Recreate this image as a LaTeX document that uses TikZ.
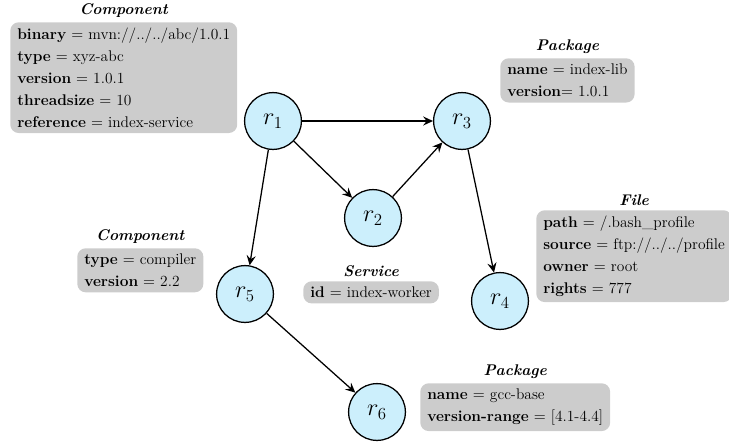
\documentclass[tikz,border=0pt]{standalone}
\usetikzlibrary{arrows.meta,positioning}

\tikzset{
    res/.style={circle, draw, line width=0.9pt, fill=cyan!20!white, minimum size=1.42cm, inner sep=0pt, font=\LARGE},
    attrs/.style={fill=gray!40, rounded corners=6pt, align=left, inner xsep=5pt, inner ysep=4pt, anchor=north west, font=\fontsize{11}{15.6}\selectfont},
    kind/.style={font=\fontsize{11}{13}\selectfont\bfseries\itshape, inner sep=1pt},
    link/.style={-{Stealth[length=7pt, width=6.5pt, inset=2.5pt]}, line width=0.9pt}
}

\begin{document}
\begin{tikzpicture}[x=0.025cm, y=-0.025cm]

        \useasboundingbox (0,0) rectangle (729,443);

        % Resources
        \node[res] (r1) at (273,121) {$r_1$};
        \node[res] (r2) at (373,218) {$r_2$};
        \node[res] (r3) at (462,121) {$r_3$};
        \node[res] (r4) at (500,301) {$r_4$};
        \node[res] (r5) at (245,294) {$r_5$};
        \node[res] (r6) at (377,412) {$r_6$};

        \foreach \a/\b in {r1/r3, r1/r2, r2/r3, r1/r5, r3/r4, r5/r6}
            \draw[link] (\a) -- (\b);

        % Attribute boxes
        \node[attrs] (comp1) at (10,22) {\textbf{binary} $=$ mvn://../../abc/1.0.1\\ \textbf{type} $=$ xyz-abc\\ \textbf{version} $=$ 1.0.1\\ \textbf{threadsize} $=$ 10\\ \textbf{reference} $=$ index-service};
        \node[kind, above=2pt of comp1] (comp1t) {Component};

        \node[attrs] (pkg1) at (500,58) {\textbf{name} $=$ index-lib\\ \textbf{version}$=$ 1.0.1};
        \node[kind, above=2pt of pkg1] (pkg1t) {Package};

        \node[attrs] (file) at (536,210) {\textbf{path} $=$ /.bash\_profile\\ \textbf{source} $=$ ftp://../../profile\\ \textbf{owner} $=$ root\\ \textbf{rights} $=$ 777};
        \node[kind, above=2pt of file] (filet) {File};

        \node[attrs] (comp2) at (77,248) {\textbf{type} $=$ compiler\\ \textbf{version} $=$ 2.2};
        \node[kind, above=2pt of comp2] (comp2t) {Component};

        \node[attrs] (svc) at (303,281) {\textbf{id} $=$ index-worker};
        \node[kind, above=2pt of svc] (svct) {Service};

        \node[attrs] (pkg2) at (420,383) {\textbf{name} $=$ gcc-base\\ \textbf{version-range} $=$ [4.1-4.4]};
        \node[kind, above=2pt of pkg2] (pkg2t) {Package};

    \end{tikzpicture}
\end{document}
